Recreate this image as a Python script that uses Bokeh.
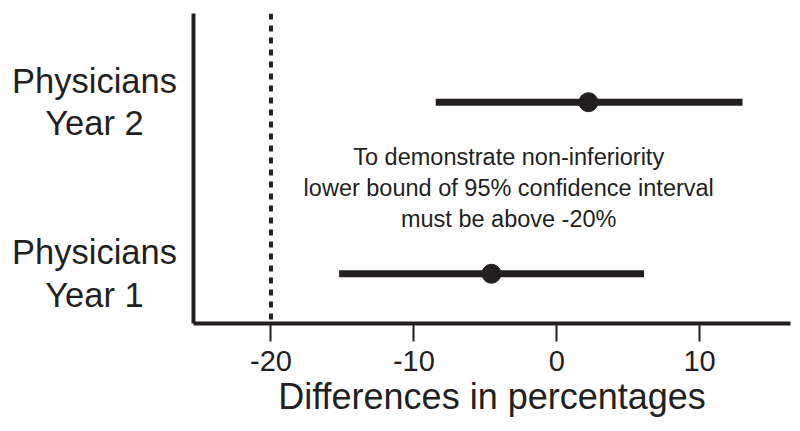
from bokeh.plotting import figure
from bokeh.models import Range1d, Label, Span
from bokeh.layouts import row
from bokeh.core.properties import value
from bokeh.embed import file_html
from bokeh.resources import INLINE

# ---- data ----
group_labels = ["Physicians\nYear 1", "Physicians\nYear 2"]
group_pos = [1, 2]
estimates = [-4.57, 2.22]
lower = [-15.23, -8.47]
upper = [6.11, 13.0]
x_ticks = [-20, -10, 0, 10]
x_tick_labels = ["-20", "-10", "0", "10"]
margin = -20
note = "To demonstrate non-inferiority\nlower bound of 95% confidence interval\nmust be above -20%"
x_label = "Differences in percentages"

INK = "#231f20"
FONT = "Liberation Sans"

H = 423
y_range = Range1d(0.71, 2.517)

# left panel holding the category labels
LW = 185
lab = figure(width=LW, height=H, output_backend="svg", toolbar_location=None,
             x_range=Range1d(0, LW), y_range=y_range,
             x_axis_location=None, y_axis_location=None,
             min_border_left=0, min_border_right=0, min_border_top=13, min_border_bottom=100)
lab.outline_line_color = None
lab.grid.visible = False
lab.text(x=[94] * len(group_pos), y=group_pos, text=group_labels,
         text_align="center", text_baseline="middle", text_font_size="34.5px",
         text_color=INK, text_line_height=1.12, text_font=value(FONT))

# main plot
p = figure(width=607, height=H, output_backend="svg", toolbar_location=None,
           x_range=Range1d(-25.42, 16.36), y_range=y_range,
           min_border_left=8, min_border_right=2, min_border_top=13, min_border_bottom=100)
p.outline_line_color = None
p.grid.visible = False

p.add_layout(Span(location=margin, dimension="height", line_color=INK,
                  line_width=4, line_dash="6 6"))

p.segment(x0=lower, y0=group_pos, x1=upper, y1=group_pos, line_color=INK, line_width=7)
p.scatter(x=estimates, y=group_pos, size=19, fill_color=INK, line_color=INK)

p.add_layout(Label(x=-3.36, y=1.5, text=note, text_align="center", text_baseline="middle",
                   text_font=FONT, text_font_size="23.5px", text_color=INK,
                   text_line_height=1.21))

xa = p.xaxis[0]
xa.ticker = x_ticks
xa.major_label_overrides = {t: l for t, l in zip(x_ticks, x_tick_labels)}
xa.axis_line_width = 4
xa.axis_line_color = INK
xa.major_tick_line_width = 2
xa.major_tick_line_color = INK
xa.major_tick_out = 18
xa.major_tick_in = 0
xa.minor_tick_line_color = None
xa.major_label_text_font = FONT
xa.major_label_text_font_size = "29px"
xa.major_label_text_color = INK
xa.major_label_standoff = 9
xa.axis_label = x_label
xa.axis_label_text_font = FONT
xa.axis_label_text_font_size = "36px"
xa.axis_label_text_font_style = "normal"
xa.axis_label_text_color = INK
xa.axis_label_standoff = 2

ya = p.yaxis[0]
ya.ticker = []
ya.axis_line_width = 4
ya.axis_line_color = INK
ya.major_tick_line_color = None
ya.major_tick_out = 0
ya.major_label_standoff = 0
ya.minor_tick_line_color = None
ya.major_label_text_font_size = "0px"

layout = row(lab, p, spacing=0)
open("out.html", "w").write(file_html(layout, INLINE))
